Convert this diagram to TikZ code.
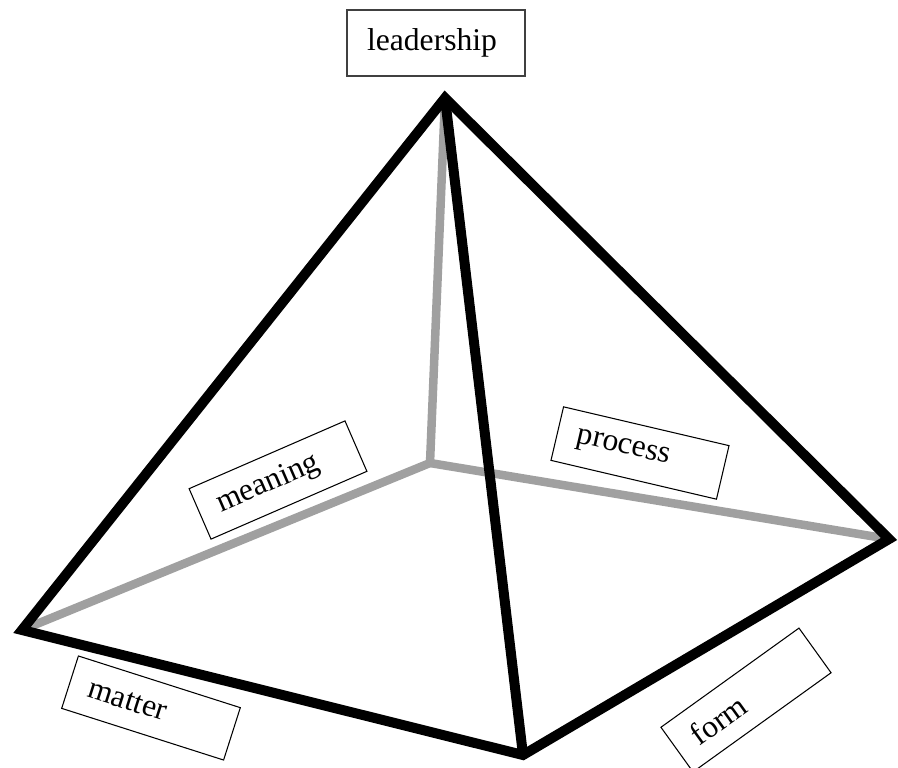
\documentclass[tikz,border=0pt]{standalone}
\usepackage{fontspec}
\setmainfont{Liberation Serif}
\definecolor{hidden}{RGB}{160,160,160}
\tikzset{
  edge/.style={line width=0.2cm, line join=miter},
  backedge/.style={line width=0.17cm, draw=hidden},
  tag/.style={draw, line width=0.6pt, inner xsep=0.4cm, text width=2.6cm,
    minimum height=1.1cm, align=left, font=\fontsize{18}{20}\selectfont},
}
\begin{document}
\begin{tikzpicture}[x=0.02cm,y=-0.02cm]
      \useasboundingbox (0,0) rectangle (898,767);
      \path
        (445,98) coordinate (top)
        (430,463) coordinate (back)
        (22,630) coordinate (left)
        (523,755) coordinate (front)
        (889,539) coordinate (right);
      \begin{scope}[backedge]
        \draw (top) to (back);
        \draw (left) to (back);
        \draw (back) to (right);
      \end{scope}
      \begin{scope}[edge]
        \draw (left) -- (top) -- (right) -- (front) -- cycle;
        \draw (top) to (front);
      \end{scope}
      \node[tag, text width=2.76cm, minimum height=1.32cm, line width=0.8pt,
        draw=black!75] (leadership) at (436,43) {leadership};
      \node[tag, rotate=23.5] (meaning) at (278,480) {meaning};
      \node[tag, rotate=-13.2] (process) at (640,453) {process};
      \node[tag, rotate=-17.7] (matter) at (151,708) {matter};
      \node[tag, rotate=35.7] (form) at (746,700) {form};
    \end{tikzpicture}
\end{document}
